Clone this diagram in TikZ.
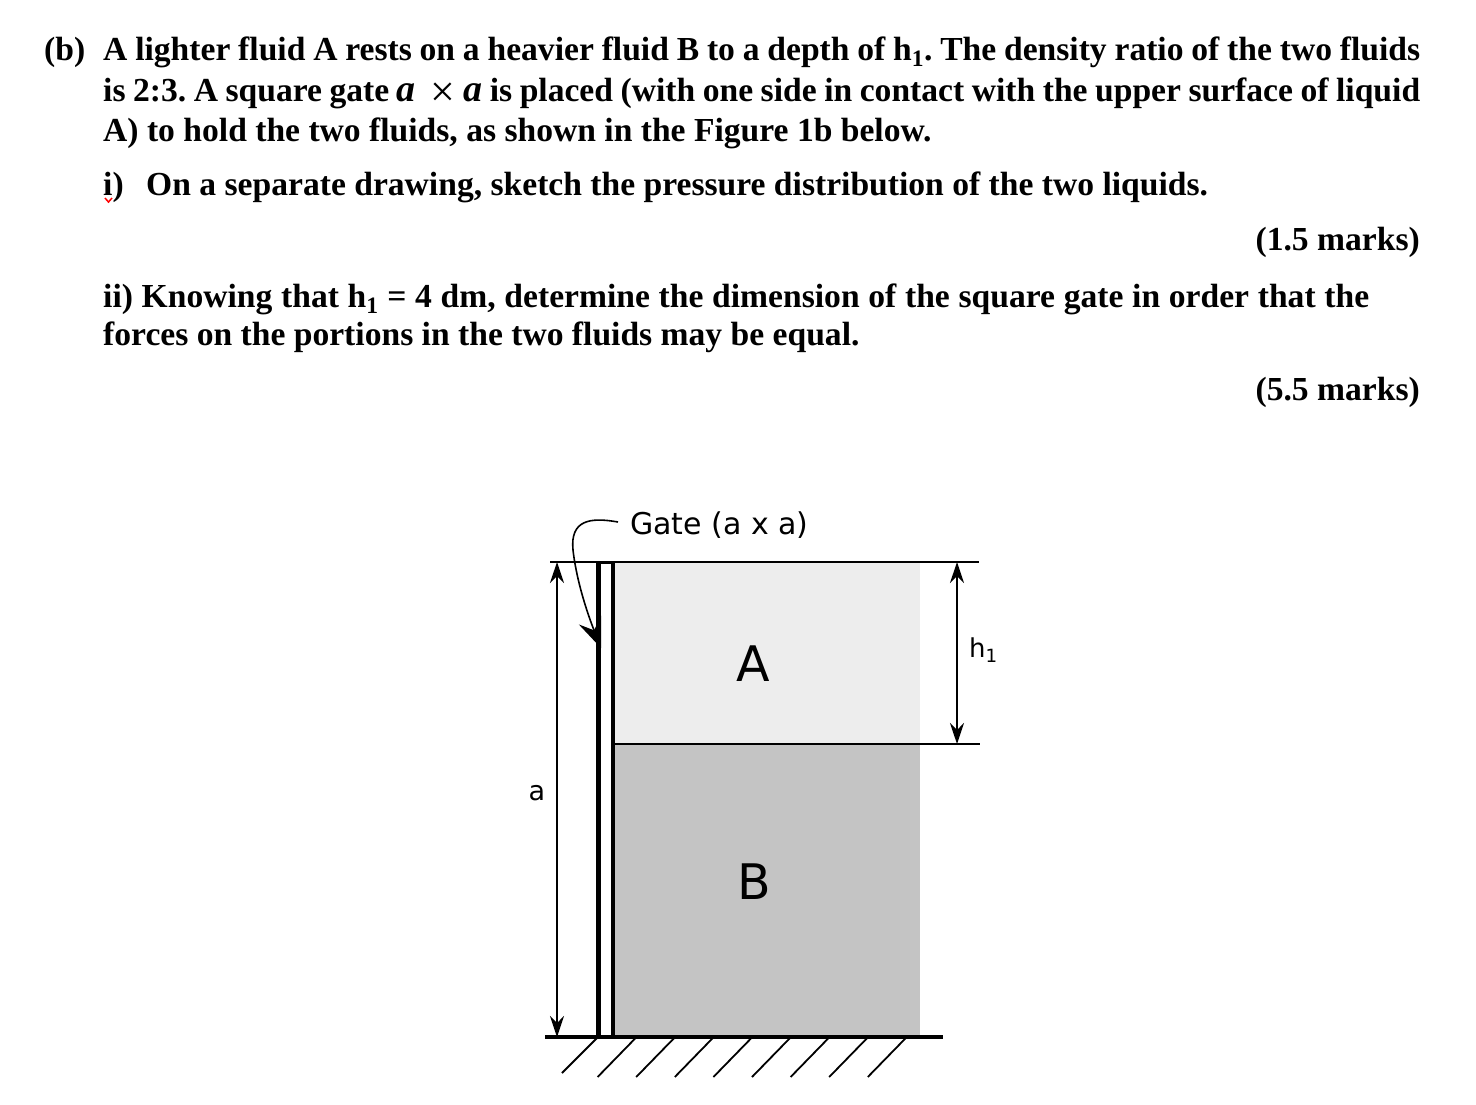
\documentclass[tikz,border=0pt]{standalone}
\usepackage{fontspec}
\setmainfont{Liberation Serif}
\setsansfont{DejaVu Sans}
\usetikzlibrary{calc, positioning, arrows.meta}
\definecolor{fluidA}{HTML}{EDEDED}
\definecolor{fluidB}{HTML}{C4C4C4}
\tikzset{
	txt/.style={anchor=base west, inner sep=0, font=\fontsize{33.6}{33.6}\selectfont\bfseries\frenchspacing},
	lbl/.style={inner sep=0, font=\fontsize{30}{30}\selectfont\sffamily},
	big/.style={inner sep=0, font=\fontsize{49}{49}\selectfont\sffamily},
	dim/.style={line width=1.6, {Stealth[length=21,width=14,inset=7]}-{Stealth[length=21,width=14,inset=7]}},
	hatch/.style={line width=1.8}
}
\newcommand{\fullline}[2][1317pt]{\makebox[#1][s]{#2}}
\newcommand{\gatevar}{{\itshape\fontsize{38}{38}\selectfont a}}
\newcommand{\gatetimes}{\raisebox{-5pt}{\mdseries\fontsize{44}{44}\selectfont ×}}
\begin{document}
\begin{tikzpicture}
		[x=1pt, y=-1pt]
		\useasboundingbox (0,0) rectangle (1476,1104);
		% text %
		\node[txt] (b) at (44,60) {(b)};
		\node[txt] (l1) at (103,60) {\fullline{A lighter fluid A rests on a heavier fluid B to a depth of h\textsubscript{1}. The density ratio of the two fluids}};
		\node[txt] (l2) at (103,101) {\fullline{is 2:3. A square gate \gatevar{} \ \gatetimes{} \gatevar{} is placed (with one side in contact with the upper surface of liquid}};
		\node[txt] (l3) at (103,141) {A) to hold the two fluids, as shown in the Figure 1b below.};
		\node[txt] (i) at (103,195) {i)};
		\node[txt] (l4) at (146,195) {On a separate drawing, sketch the pressure distribution of the two liquids.};
		\node[txt, anchor=base east] (m1) at (1420,250) {(1.5 marks)};
		\node[txt] (l5) at (103,307) {\fullline[1266pt]{ii) Knowing that h\textsubscript{1} = 4 dm, determine the dimension of the square gate in order that the}};
		\node[txt] (l6) at (103,345) {forces on the portions in the two fluids may be equal.};
		\node[txt, anchor=base east] (m2) at (1420,400) {(5.5 marks)};

		% fluids %
		\fill[fluidA] (613,563) rectangle (920,744);
		\fill[fluidB] (613,744) rectangle (920,1036);
		\node[big] (A) at (753,664) {A};
		\node[big] (B) at (754,882) {B};

		% coordinates %
		\coordinate (topl) at (550,562);
		\coordinate (topr) at (979,562);
		\coordinate (midl) at (613,744);
		\coordinate (midr) at (980,744);
		\coordinate (grl) at (545,1037);
		\coordinate (grr) at (943,1037);
		\coordinate (at) at (557,562);
		\coordinate (ab) at (557,1037);
		\coordinate (ht) at (957,562);
		\coordinate (hb) at (957,744);
		\coordinate (gatehit) at (601,648);

		% lines %
		\draw[line width=1.8] (topl) -- (topr);
		\draw[line width=1.8] (midl) -- (midr);
		\draw[line width=4.4] (598.5,562) -- (598.5,1036);
		\draw[line width=3.6] (612.8,562) -- (612.8,1036);
		\draw[line width=3.2] (596.5,562.6) -- (614.5,562.6);
		\draw[line width=4] (grl) -- (grr);
		\foreach \i in {1,...,8}
			\draw[hatch] ({597+38.6*\i},1038) -- ++(-38,39);
		\draw[hatch] (597,1038) -- (562,1073);

		% dimensions %
		\draw[dim] (at) -- (ab);
		\draw[dim] (ht) -- (hb);
		\node[lbl, font=\fontsize{27}{27}\selectfont\sffamily] (a) at (537,793) {a};
		\node[lbl, font=\fontsize{26}{26}\selectfont\sffamily, anchor=west] (h) at (969,650) {h\textsubscript{1}};

		% gate %
		\node[lbl, anchor=west] (gate) at (630,525) {Gate (a x a)};
		\draw[line width=1.6, -{Stealth[length=30,width=24,inset=11]}] (618,522) .. controls (590,517) and (570,520) .. (573,550) .. controls (577,585) and (590,620) .. (gatehit);

		% spelling mark %
		\draw[red, line width=1.5] (105,198) -- (108.5,202) -- (112,198);
		\end{tikzpicture}
\end{document}
